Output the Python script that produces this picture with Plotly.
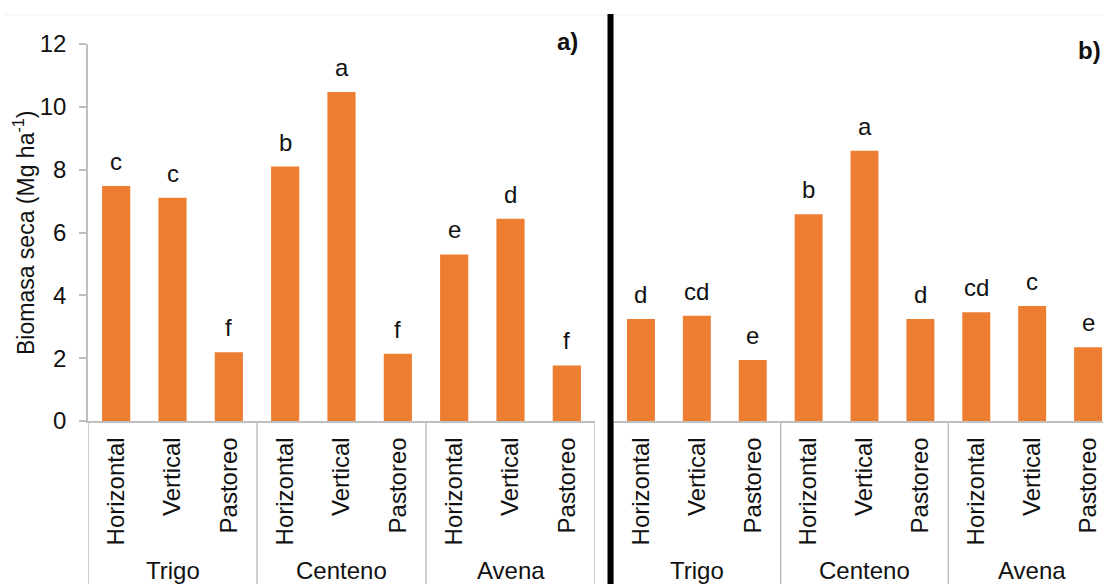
import plotly.graph_objects as go

# Cultivos de cobertura y modalidad de manejo
cultivos = ["Trigo", "Centeno", "Avena"]
manejos = ["Horizontal", "Vertical", "Pastoreo"]

# Panel a): biomasa seca (Mg ha-1) y letras de significancia
biomasa_a = [7.48, 7.11, 2.19, 8.10, 10.47, 2.14, 5.30, 6.44, 1.77]
letras_a = ["c", "c", "f", "b", "a", "f", "e", "d", "f"]

# Panel b)
biomasa_b = [3.25, 3.35, 1.94, 6.58, 8.60, 3.25, 3.46, 3.66, 2.35]
letras_b = ["d", "cd", "e", "b", "a", "d", "cd", "c", "e"]

W, H = 1103, 584
FONT = "Liberation Sans, Arial, sans-serif"
NARANJA = "#ED7D31"
GRIS = "#BFBFBF"
TXT = "#111111"
FS = 24

posiciones = list(range(len(manejos) * len(cultivos)))
etiquetas = manejos * len(cultivos)


def px_x(p):
    return p / W


def px_y(p):
    return (H - p) / H


y_dom = [px_y(421), px_y(44)]

fig = go.Figure()
for eje_x, eje_y, valores in (("x", "y", biomasa_a), ("x2", "y2", biomasa_b)):
    fig.add_trace(go.Bar(
        x=posiciones, y=valores, width=0.5,
        marker=dict(color=NARANJA, line=dict(width=0)),
        xaxis=eje_x, yaxis=eje_y, showlegend=False, hoverinfo="x+y",
    ))

eje_cat = dict(
    tickmode="array", tickvals=posiciones, ticktext=etiquetas,
    tickangle=-90, ticks="", showline=True, linecolor=GRIS, linewidth=1.5,
    showgrid=False, zeroline=False, fixedrange=True, automargin=False,
    ticklabelstandoff=5,
    tickfont=dict(family=FONT, size=FS, color=TXT),
)

fig.update_layout(
    width=W, height=H, autosize=False,
    margin=dict(l=0, r=0, t=0, b=0, pad=0),
    paper_bgcolor="white", plot_bgcolor="white",
    bargap=0.5,
    xaxis=dict(domain=[px_x(88), px_x(595)], range=[-0.5, 8.5], anchor="y", **eje_cat),
    xaxis2=dict(domain=[px_x(613), 1.0], range=[-0.5, 8.267], anchor="y2", **eje_cat),
    yaxis=dict(
        domain=y_dom, range=[0, 12], dtick=2, anchor="x",
        ticks="outside", ticklen=7, tickcolor=GRIS, tickwidth=1.5,
        showline=True, linecolor=GRIS, linewidth=1.5, automargin=False,
        showgrid=False, zeroline=False, ticklabelstandoff=8, fixedrange=True,
        tickfont=dict(family=FONT, size=FS, color=TXT),
    ),
    yaxis2=dict(domain=y_dom, range=[0, 12], anchor="x2", visible=False,
                showgrid=False, zeroline=False, automargin=False, fixedrange=True),
)

anotaciones = []
formas = []

# Letras de significancia sobre cada barra
for eje, valores, letras in (("x", biomasa_a, letras_a), ("x2", biomasa_b, letras_b)):
    eje_y = "y" if eje == "x" else "y2"
    for p, v, t in zip(posiciones, valores, letras):
        anotaciones.append(dict(
            x=p, y=v, xref=eje, yref=eje_y, text=t, showarrow=False,
            yanchor="bottom", yshift=9,
            font=dict(family=FONT, size=FS, color=TXT),
        ))
    # Nombre del cultivo bajo cada grupo
    for g, nombre in enumerate(cultivos):
        anotaciones.append(dict(
            x=g * 3 + 1, y=px_y(555), xref=eje, yref="paper", text=nombre,
            showarrow=False, yanchor="top",
            font=dict(family=FONT, size=FS, color=TXT),
        ))
    # Divisores entre grupos
    for s in (-0.5, 2.5, 5.5, 8.5):
        formas.append(dict(
            type="line", xref=eje, yref="paper", x0=s, x1=s,
            y0=-0.02, y1=px_y(421), line=dict(color=GRIS, width=1.5),
        ))

# Título del eje Y
anotaciones.append(dict(
    x=px_x(24), y=px_y(233), xref="paper", yref="paper",
    text="Biomasa seca (Mg ha<sup>-1</sup>)", textangle=-90, showarrow=False,
    xanchor="center", yanchor="middle",
    font=dict(family=FONT, size=23, color=TXT),
))

# Identificadores de panel
for texto, cx, cy in (("a)", 567, 41), ("b)", 1089, 50)):
    anotaciones.append(dict(
        x=px_x(cx), y=px_y(cy), xref="paper", yref="paper",
        text=f"<b>{texto}</b>", showarrow=False,
        xanchor="center", yanchor="middle",
        font=dict(family=FONT, size=FS, color=TXT),
    ))

# Línea tenue superior y separador negro entre paneles
formas.append(dict(type="line", xref="paper", yref="paper",
                   x0=px_x(5), x1=1.0, y0=px_y(15), y1=px_y(15),
                   line=dict(color="#F0F0F0", width=1)))
formas.append(dict(type="line", xref="paper", yref="paper",
                   x0=px_x(610.5), x1=px_x(610.5), y0=-0.02, y1=px_y(14),
                   line=dict(color="black", width=6)))

fig.update_layout(annotations=anotaciones, shapes=formas)

fig.write_html("out.html")
